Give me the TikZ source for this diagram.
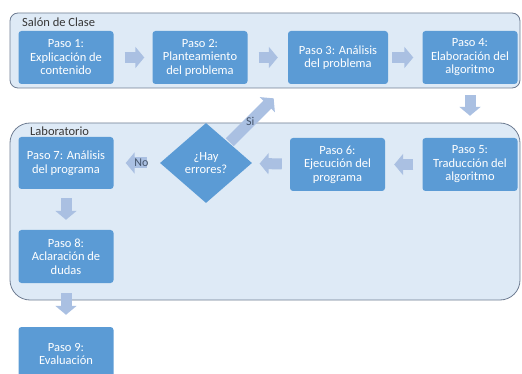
\documentclass[tikz,border=0pt]{standalone}
\usepackage{fontspec}
\setmainfont{Carlito}
\usetikzlibrary{arrows.meta, positioning, shapes.geometric}

\definecolor{stepblue}{RGB}{91,155,213}
\definecolor{panelfill}{RGB}{222,234,246}
\definecolor{paneldraw}{RGB}{110,124,146}
\definecolor{arrowblue}{RGB}{170,192,226}
\definecolor{labelgray}{RGB}{55,55,55}
\definecolor{tagblue}{RGB}{68,84,106}

\tikzset{
  stepbox/.style={rectangle, rounded corners=3pt, fill=stepblue, text=white, align=center,
    minimum width=95pt, minimum height=53pt, inner sep=1pt, font=\fontsize{12.5}{13.5}\selectfont},
  decision/.style={diamond, fill=stepblue, text=white, align=center, aspect=1.15,
    minimum width=92pt, minimum height=80pt, inner sep=0pt, font=\fontsize{12.5}{13.5}\selectfont},
  panel/.style={fill=panelfill, draw=paneldraw, line width=0.8pt},
  fatarrow/.style={arrowblue, line width=11pt, -{Triangle[length=9pt, width=21pt]},
    shorten <=10pt, shorten >=9pt},
  tag/.style={text=tagblue, font=\fontsize{12}{13}\selectfont, inner sep=0pt},
}

\begin{document}
\begin{tikzpicture}[x=1pt, y=-1pt]
  \clip (0,0) rectangle (522,374);
  % Panels
  \draw[panel, rounded corners=8pt] (10,13) rectangle (520,88);
  \draw[panel, rounded corners=20pt] (10,123) rectangle (520,300);
  \node[anchor=west, text=labelgray, font=\fontsize{12.5}{13.5}\selectfont, inner sep=0pt] (salon) at (22,22) {Salón de Clase};
  \node[anchor=west, text=labelgray, font=\fontsize{12.5}{13.5}\selectfont, inner sep=0pt] (lab) at (30,131) {Laboratorio};
  % Salon de clase
  \node[stepbox] (p1) at (66,57.5) {Paso 1:\\Explicación de\\contenido};
  \node[stepbox] (p2) at (200,57.5) {Paso 2:\\Planteamiento\\del problema};
  \node[stepbox, minimum width=100pt] (p3) at (338,57.5) {Paso 3: Análisis\\del problema};
  \node[stepbox] (p4) at (470,57.5) {Paso 4:\\Elaboración del\\algoritmo};
  % Laboratorio
  \node[stepbox] (p5) at (470,164.5) {Paso 5:\\Traducción del\\algoritmo};
  \node[stepbox] (p6) at (337.5,164.5) {Paso 6:\\Ejecución del\\programa};
  \node[decision] (dia) at (206,163) {¿Hay\\errores?};
  \node[stepbox, minimum height=52pt] (p7) at (66,163) {Paso 7: Análisis\\del programa};
  \node[stepbox] (p8) at (66,256.5) {Paso 8:\\Aclaración de\\dudas};
  \node[stepbox, minimum height=54pt] (p9) at (66,354) {Paso 9:\\Evaluación};
  % Flow
  \draw[fatarrow, shorten <=11pt, shorten >=8pt] (p1) -- (p2);
  \draw[fatarrow, shorten <=11pt, shorten >=10pt] (p2) -- (p3);
  \draw[fatarrow, shorten <=4pt, shorten >=9pt] (p3) -- (p4);
  \draw[fatarrow, shorten <=11pt, shorten >=22pt] (p4) -- (p5);
  \draw[fatarrow, shorten <=9pt, shorten >=9pt] (p5) -- (p6);
  \draw[fatarrow, shorten <=8pt, shorten >=8pt] (p6) -- (dia);
  \draw[fatarrow, shorten <=13pt, shorten >=12pt] (dia) -- (p7) node[tag, pos=0.4] (no) {No};
  \draw[fatarrow, shorten <=1pt, shorten >=20pt] (dia.north east) -- (p3.south west) node[tag, pos=0.36] (si) {Si};
  \draw[fatarrow, shorten <=9pt, shorten >=10pt] (p7) -- (p8);
  \draw[fatarrow, shorten <=10pt, shorten >=12pt] (p8) -- (p9);
\end{tikzpicture}
\end{document}
